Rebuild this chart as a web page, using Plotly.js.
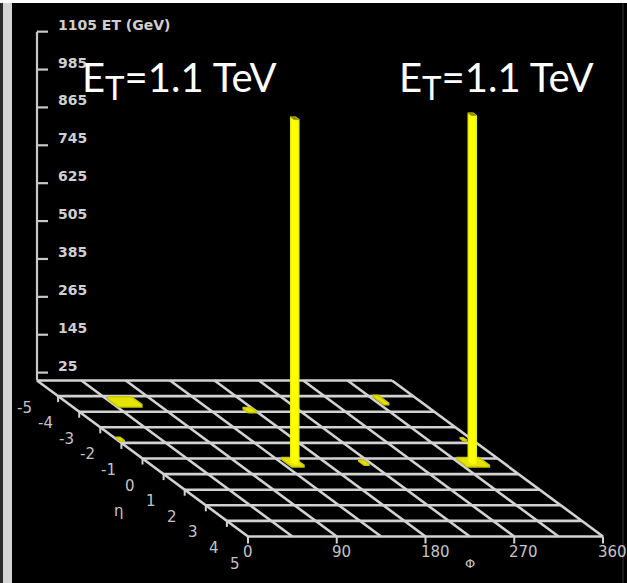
<!DOCTYPE html>
<html>
<head>
<meta charset="utf-8">
<script src="https://cdn.plot.ly/plotly-3.0.1.min.js"></script>
<style>html,body{margin:0;padding:0;background:#000;}#chart{width:627px;height:583px;}</style>
</head>
<body>
<div id="chart"></div>
<script>
// ---------------- data ----------------
const phiGrid = [0, 45, 90, 135, 180, 225, 270, 315, 360];
const etaGrid = [-5, -4, -3, -2, -1, 0, 1, 2, 3, 4, 5];
const phiLabels = [0, 90, 180, 270, 360];
const etaLabels = [-5, -4, -3, -2, -1, 0, 1, 2, 3, 4, 5];
const etTicks = [25, 145, 265, 385, 505, 625, 745, 865, 985, 1105];
const etTickText = ["25", "145", "265", "385", "505", "625", "745", "865", "985", "1105 ET (GeV)"];

// two leading towers (jets)
const towerPhi = [148, 328];
const towerEta = [0.3, 0.3];
const towerEt = [1092, 1105];
const towerDphi = [5, 5];
const towerDeta = [0.15, 0.15];

// small energy deposits
const depPhi  = [58, 174, 3, 321, 218, 146, 329, 351];
const depEta  = [-3.55, -3.05, -1.2, -3.7, 0.3, 0.3, 0.3, -1.2];
const depEt   = [8, 5, 3, 5, 4, 6, 6, 3];
const depDphi = [24, 8, 4, 5, 5, 12, 22, 3];
const depDeta = [0.5, 0.25, 0.2, 0.5, 0.25, 0.5, 0.5, 0.15];

const jetLabels = ["E<sub><span style=\"font-size:33px\">T</span></sub>=1.1 TeV",
                   "E<sub><span style=\"font-size:33px\">T</span></sub>=1.1 TeV"];

// ---------------- projection (oblique lego view) ----------------
const W = 627, H = 583;
const ORIGIN = [37, 380.5];          // phi=0, eta=-5, ET=0
const PHI_PX = 355 / 360;            // per degree
const ETA_VEC = [21.1, 15.6];        // per unit eta
const ET_PX = 0.3157;                // per GeV
function P(phi, eta, et) {
  return [ORIGIN[0] + phi * PHI_PX + (eta + 5) * ETA_VEC[0],
          ORIGIN[1] + (eta + 5) * ETA_VEC[1] - et * ET_PX];
}

const GRID_COL = '#d2d2d2';
const traces = [];

// floor grid
(function () {
  const x = [], y = [];
  phiGrid.forEach(p => {
    const a = P(p, -5, 0), b = P(p, 5, 0);
    x.push(a[0], b[0], null); y.push(a[1], b[1], null);
  });
  etaGrid.forEach(e => {
    const a = P(0, e, 0), b = P(360, e, 0);
    x.push(a[0], b[0], null); y.push(a[1], b[1], null);
  });
  traces.push({x, y, mode: 'lines', line: {color: GRID_COL, width: 2.6}, hoverinfo: 'skip'});
})();

// eta ticks (down from left edge) and phi ticks (down from front edge)
(function () {
  const x = [], y = [];
  etaLabels.forEach(e => {
    if (e === -5) return;
    const a = P(0, e, 0);
    x.push(a[0], a[0], null); y.push(a[1], a[1] + 6, null);
  });
  phiLabels.forEach(p => {
    const a = P(p, 5, 0);
    x.push(a[0], a[0], null); y.push(a[1], a[1] + 7, null);
  });
  traces.push({x, y, mode: 'lines', line: {color: GRID_COL, width: 2}, hoverinfo: 'skip'});
})();

// ET axis with bracket ticks
(function () {
  const x = [], y = [];
  const a = P(0, -5, 0), b = P(0, -5, etTicks[etTicks.length - 1]);
  x.push(a[0], b[0], null); y.push(a[1], b[1], null);
  etTicks.forEach(v => {
    const t = P(0, -5, v);
    x.push(t[0], t[0] + 11, null); y.push(t[1], t[1], null);
  });
  traces.push({x, y, mode: 'lines', line: {color: '#c8c8c8', width: 2.2}, hoverinfo: 'skip'});
})();

// prism silhouette
function prism(phi, eta, et, dphi, deta) {
  const p0 = phi - dphi / 2, p1 = phi + dphi / 2, e0 = eta - deta / 2, e1 = eta + deta / 2;
  const pts = [P(p0, e1, 0), P(p1, e1, 0), P(p1, e1, et), P(p1, e0, et), P(p0, e0, et), P(p0, e0, 0), P(p0, e1, 0)];
  const top = [P(p0, e0, et), P(p1, e0, et), P(p1, e1, et), P(p0, e1, et), P(p0, e0, et)];
  return {pts, top};
}

// deposits
depPhi.forEach((p, i) => {
  const pr = prism(p, depEta[i], depEt[i], depDphi[i], depDeta[i]);
  traces.push({x: pr.pts.map(q => q[0]), y: pr.pts.map(q => q[1]), mode: 'lines', fill: 'toself',
    fillcolor: '#e4e400', line: {color: '#c8c800', width: 1.5}, hoverinfo: 'skip'});
});

// towers
towerPhi.forEach((p, i) => {
  const pr = prism(p, towerEta[i], towerEt[i], towerDphi[i], towerDeta[i]);
  traces.push({x: pr.pts.map(q => q[0]), y: pr.pts.map(q => q[1]), mode: 'lines', fill: 'toself',
    fillcolor: '#ffff00', line: {color: '#eeee00', width: 1.4}, hoverinfo: 'skip'});
  traces.push({x: pr.top.map(q => q[0]), y: pr.top.map(q => q[1]), mode: 'lines', fill: 'toself',
    fillcolor: '#8a8a00', line: {color: '#8a8a00', width: 0.6}, hoverinfo: 'skip'});
});

// ---------------- annotations ----------------
const annotations = [];
const LBL_FONT = {family: 'DejaVu Sans', size: 14, color: '#cfcfcf', weight: 'bold'};
etTicks.forEach((v, i) => {
  const t = P(0, -5, v);
  annotations.push({x: t[0] + 19, y: t[1], text: etTickText[i], showarrow: false, xanchor: 'left',
    yanchor: 'middle', yshift: 7, font: LBL_FONT});
});
const AX_FONT = {family: 'DejaVu Sans', size: 15, color: '#c4c4c4'};
etaLabels.forEach(e => {
  const t = P(0, e, 0);
  annotations.push({x: t[0], y: t[1], text: String(e), showarrow: false, xanchor: 'center',
    yanchor: 'middle', xshift: -13, yshift: -27, font: AX_FONT});
});
phiLabels.forEach(p => {
  const t = P(p, 5, 0);
  annotations.push({x: t[0], y: t[1], text: String(p), showarrow: false, xanchor: 'left',
    yanchor: 'middle', xshift: -7, yshift: -15, font: AX_FONT});
});
(function () {
  const t = P(0, 1, 0);
  annotations.push({x: t[0], y: t[1], text: 'η', showarrow: false, xanchor: 'center', yanchor: 'middle',
    xshift: -45, yshift: -37, font: {family: 'DejaVu Sans', size: 15, color: '#c4c4c4'}});
  const f = P(225, 5, 0);
  annotations.push({x: f[0], y: f[1], text: 'Φ', showarrow: false, xanchor: 'center', yanchor: 'middle',
    xshift: 0, yshift: -27, font: {family: 'DejaVu Sans', size: 13, color: '#c4c4c4'}});
})();
// jet energy labels
const jetLabelX = [80, 397];
jetLabels.forEach((s, i) => {
  annotations.push({x: jetLabelX[i], y: 80, text: s, showarrow: false, xanchor: 'left', yanchor: 'middle',
    font: {family: 'Lato', size: 40, color: '#ffffff'}});
});

const shapes = [
  {type: 'rect', xref: 'x', yref: 'y', x0: 0, x1: W, y0: 0, y1: 3, fillcolor: '#ffffff', line: {width: 0}, layer: 'below'},
  {type: 'rect', xref: 'x', yref: 'y', x0: 0, x1: 3, y0: 3, y1: H, fillcolor: '#2a2a2a', line: {width: 0}, layer: 'below'},
  {type: 'rect', xref: 'x', yref: 'y', x0: 3, x1: 12, y0: 3, y1: H, fillcolor: '#d4d4d4', line: {width: 0}, layer: 'below'},
  {type: 'rect', xref: 'x', yref: 'y', x0: 622, x1: 624, y0: 3, y1: H, fillcolor: '#1c1c1c', line: {width: 0}, layer: 'below'}
];

const layout = {
  width: W, height: H,
  margin: {l: 0, r: 0, t: 0, b: 0, pad: 0},
  paper_bgcolor: '#000000', plot_bgcolor: '#000000',
  showlegend: false,
  xaxis: {range: [0, W], visible: false, fixedrange: true},
  yaxis: {range: [H, 0], visible: false, fixedrange: true},
  annotations, shapes
};

Plotly.newPlot('chart', traces, layout, {staticPlot: true, displayModeBar: false});
</script>
</body>
</html>
